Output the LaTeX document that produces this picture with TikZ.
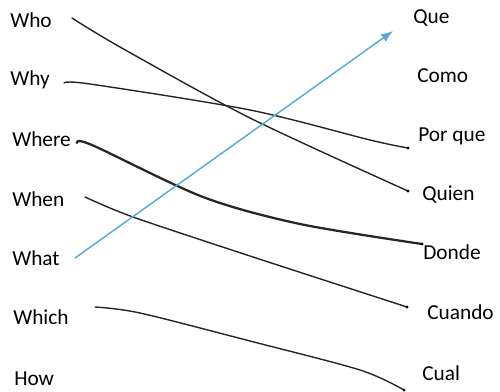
\documentclass[tikz,border=0pt]{standalone}
\usepackage{fontspec}
\setmainfont{Carlito}
\usetikzlibrary{arrows.meta}
\definecolor{arrowblue}{RGB}{88,170,222}
\begin{document}
\begin{tikzpicture}[x=0.75pt,y=-0.75pt,
  word/.style={anchor=base west,inner sep=0pt,font=\fontsize{16}{19}\selectfont},
  pen/.style={draw=black!85,line width=1.05pt,line cap=round},
  thickpen/.style={draw=black!85,line width=1.7pt,line cap=round},
  enddot/.style={circle,fill=black,inner sep=0pt,minimum size=2.4pt}]
\useasboundingbox (0,0) rectangle (500,392);
% left words
\node[word] (who)   at (10,28)  {Who};
\node[word] (why)   at (10,86)  {Why};
\node[word] (where) at (12,147) {Where};
\node[word] (when)  at (12,207) {When};
\node[word] (what)  at (12,266) {What};
\node[word] (which) at (13,325) {Which};
\node[word] (how)   at (14,385) {How};
% right words
\node[word] (que)    at (413,24)  {Que};
\node[word] (como)   at (417,83)  {Como};
\node[word] (porque) at (418,142) {Por que};
\node[word] (quien)  at (422,201) {Quien};
\node[word] (donde)  at (423,260) {Donde};
\node[word] (cuando) at (427,320) {Cuando};
\node[word] (cual)   at (422,380) {Cual};
% end points
\coordinate (a1) at (72,18);   \coordinate (b1) at (408,191);
\coordinate (a2) at (64,83);   \coordinate (b2) at (408,148);
\coordinate (a3) at (77,143);  \coordinate (b3) at (422,244);
\coordinate (a4) at (85,197);  \coordinate (b4) at (407,307);
\coordinate (a5) at (95,307);  \coordinate (b5) at (404,390);
\coordinate (s)  at (75,258);  \coordinate (t)  at (393,31);
% connectors
\draw[pen] plot[smooth,tension=0.5] coordinates {(a1) (120,47) (250,118) (b1)};
\draw[pen] plot[smooth,tension=0.5] coordinates {(a2) (90,84) (250,110) (370,140) (b2)};
\draw[thickpen] plot[smooth,tension=0.5] coordinates {(a3) (92,145) (203,197) (300,224) (b3)};
\draw[pen] plot[smooth,tension=0.5] coordinates {(a4) (133,217) (250,256) (b4)};
\draw[pen] plot[smooth,tension=0.5] coordinates {(a5) (140,313) (250,341) (360,370) (b5)};
\node[enddot] at (b1) {};
\node[enddot] at (b2) {};
\node[enddot] at (b3) {};
\node[enddot] at (b4) {};
\node[enddot] at (b5) {};
\draw[draw=arrowblue,line width=1.1pt,-{Latex[length=9pt,width=7pt]}] (s) -- (t);
\end{tikzpicture}
\end{document}
